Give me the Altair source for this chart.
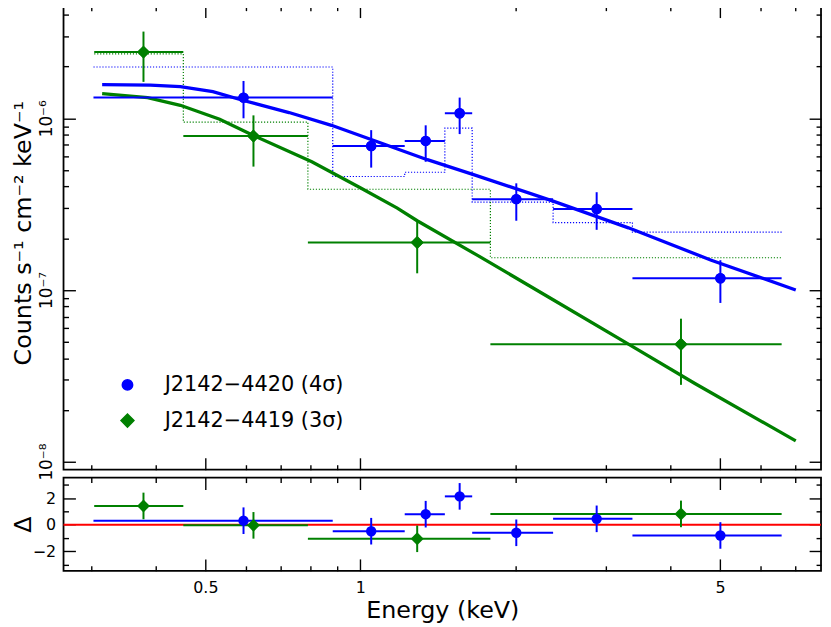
import altair as alt
import pandas as pd

BLUE = "J2142−4420 (4σ)"
GREEN = "J2142−4419 (3σ)"

# J2142-4420: energy bins (keV), unfolded flux, errors, folded model, residuals
blue_lo = [0.303, 0.884, 1.22, 1.46, 1.65, 2.37, 3.38]
blue_hi = [0.884, 1.22, 1.46, 1.65, 2.37, 3.38, 6.59]
blue_e = [0.593, 1.05, 1.34, 1.56, 2.01, 2.88, 5.01]
blue_flux = [1.32e-6, 6.9e-7, 7.38e-7, 1.07e-6, 3.38e-7, 2.96e-7, 1.17e-7]
blue_flux_lo = [1.0e-6, 5.16e-7, 5.58e-7, 8.09e-7, 2.53e-7, 2.24e-7, 8.4e-8]
blue_flux_hi = [1.65e-6, 8.53e-7, 9.1e-7, 1.32e-6, 4.18e-7, 3.71e-7, 1.49e-7]
blue_fold = [1.99e-6, 4.58e-7, 4.85e-7, 8.76e-7, 3.25e-7, 2.47e-7, 2.17e-7]
blue_delta = [0.30, -0.49, 0.79, 2.13, -0.61, 0.44, -0.81]
blue_delta_err = [1, 1, 1, 1, 1, 1, 1]

# J2142-4419
green_lo = [0.304, 0.453, 0.791, 1.79]
green_hi = [0.453, 0.791, 1.79, 6.59]
green_e = [0.379, 0.620, 1.29, 4.20]
green_flux = [2.43e-6, 7.88e-7, 1.89e-7, 4.83e-8]
green_flux_lo = [1.63e-6, 5.23e-7, 1.25e-7, 2.8e-8]
green_flux_hi = [3.2e-6, 1.04e-6, 2.53e-7, 6.8e-8]
green_fold = [2.37e-6, 9.5e-7, 3.86e-7, 1.54e-7]
green_delta = [1.41, -0.05, -1.06, 0.81]
green_delta_err = [1, 1, 1, 1]

# best-fit model curves
blue_model_e = [0.315, 0.391, 0.447, 0.517, 0.593, 0.727, 0.879, 1.083, 1.35, 1.66, 2.37, 3.32, 4.81, 7.02]
blue_model = [1.57e-6, 1.56e-6, 1.53e-6, 1.43e-6, 1.27e-6, 1.08e-6, 9.1e-7, 7.28e-7, 5.74e-7, 4.70e-7, 3.29e-7, 2.30e-7, 1.49e-7, 1.0e-7]
green_model_e = [0.315, 0.386, 0.447, 0.533, 0.617, 0.805, 1.004, 1.18, 1.29, 1.69, 2.37, 3.32, 4.47, 7.02]
green_model = [1.39e-6, 1.32e-6, 1.19e-6, 9.87e-7, 7.99e-7, 5.58e-7, 3.91e-7, 3.0e-7, 2.53e-7, 1.59e-7, 8.77e-8, 4.83e-8, 2.85e-8, 1.32e-8]

x_ticks = [0.3, 0.4, 0.5, 0.6, 0.7, 0.8, 0.9, 1, 2, 3, 4, 5, 6, 7]
x_labels = [0.5, 1, 5]
y_ticks = [1e-8, 2e-8, 3e-8, 4e-8, 5e-8, 6e-8, 7e-8, 8e-8, 9e-8,
           1e-7, 2e-7, 3e-7, 4e-7, 5e-7, 6e-7, 7e-7, 8e-7, 9e-7,
           1e-6, 2e-6, 3e-6, 4e-6]
y_labels = [1e-8, 1e-7, 1e-6]
d_ticks = [-3, -2, -1, 0, 1, 2, 3]
d_labels = [-2, 0, 2]

W, H1, H2 = 764, 468, 94
FONT = "DejaVu Sans"

pts = pd.concat([
    pd.DataFrame({"src": BLUE, "e": blue_e, "lo": blue_lo, "hi": blue_hi, "f": blue_flux,
                  "flo": blue_flux_lo, "fhi": blue_flux_hi, "d": blue_delta,
                  "dlo": [a - b for a, b in zip(blue_delta, blue_delta_err)],
                  "dhi": [a + b for a, b in zip(blue_delta, blue_delta_err)]}),
    pd.DataFrame({"src": GREEN, "e": green_e, "lo": green_lo, "hi": green_hi, "f": green_flux,
                  "flo": green_flux_lo, "fhi": green_flux_hi, "d": green_delta,
                  "dlo": [a - b for a, b in zip(green_delta, green_delta_err)],
                  "dhi": [a + b for a, b in zip(green_delta, green_delta_err)]}),
])

fold = pd.concat([
    pd.DataFrame({"src": BLUE, "e": blue_lo + [blue_hi[-1]], "f": blue_fold + [blue_fold[-1]]}),
    pd.DataFrame({"src": GREEN, "e": green_lo + [green_hi[-1]], "f": green_fold + [green_fold[-1]]}),
])
model = pd.concat([
    pd.DataFrame({"src": BLUE, "e": blue_model_e, "f": blue_model}),
    pd.DataFrame({"src": GREEN, "e": green_model_e, "f": green_model}),
])
zero = pd.DataFrame({"d": [0]})

xs = alt.Scale(type="log", domain=[0.265, 7.86], nice=False)
ys = alt.Scale(type="log", domain=[8.97e-9, 4.53e-6], nice=False)
ds = alt.Scale(domain=[-3.47, 3.54], nice=False)
cs = alt.Scale(domain=[BLUE, GREEN], range=["#0000ff", "#008000"])
ss = alt.Scale(domain=[BLUE, GREEN], range=["circle", "diamond"])
zs = alt.Scale(domain=[BLUE, GREEN], range=[110, 170])

X_MAJOR = "indexof([0.5, 1, 5], datum.value) >= 0"
Y_MAJOR = "abs(log(datum.value) / LN10 - round(log(datum.value) / LN10)) < 0.01"
D_MAJOR = "datum.value % 2 == 0"


def tick_axis(orient, offset, values, major):
    # inward ticks: an axis of the opposite side, pulled across the plot
    return alt.Axis(orient=orient, offset=offset, values=values, labels=False, domain=False,
                    grid=False, title=None, tickColor="black", tickWidth=1.4,
                    tickSize={"condition": {"test": major, "value": 12}, "value": 5})


color = alt.Color("src:N", scale=cs, legend=None)
leg = alt.Legend(orient="none", legendX=54, legendY=372, title=None, labelFontSize=21,
                 labelFont=FONT, symbolSize=140, labelOffset=27, rowPadding=14, padding=0,
                 labelColor="black", labelLimit=0)


def points(y, scale, legend):
    return alt.Chart(pts).mark_point(filled=True, opacity=1).encode(
        x=alt.X("e:Q", scale=xs, axis=None),
        y=alt.Y(y, scale=scale, axis=None),
        color=alt.Color("src:N", scale=cs, legend=legend),
        shape=alt.Shape("src:N", scale=ss, legend=legend),
        size=alt.Size("src:N", scale=zs, legend=legend))


# ---- main panel
m_fold = alt.Chart(fold).mark_line(interpolate="step-after", strokeWidth=1.2,
                                   strokeDash=[1.2, 1.8], clip=True).encode(
    x=alt.X("e:Q", scale=xs, axis=tick_axis("top", -H1, x_ticks, X_MAJOR)),
    y=alt.Y("f:Q", scale=ys, axis=tick_axis("right", -W, y_ticks, Y_MAJOR)),
    color=color, detail="src:N")

m_model = alt.Chart(model).mark_line(strokeWidth=3.3, clip=True).encode(
    x=alt.X("e:Q", scale=xs, axis=tick_axis("bottom", -H1, x_ticks, X_MAJOR)),
    y=alt.Y("f:Q", scale=ys, axis=tick_axis("left", -W, y_ticks, Y_MAJOR)),
    color=color)

m_xerr = alt.Chart(pts).mark_rule(strokeWidth=2).encode(
    x=alt.X("lo:Q", scale=xs, axis=None), x2="hi:Q",
    y=alt.Y("f:Q", scale=ys, axis=alt.Axis(
        orient="left", values=y_labels, ticks=False, domain=False, grid=False,
        labelExpr="'10⁻' + ['⁰','¹','²','³','⁴','⁵','⁶','⁷','⁸','⁹'][round(-log(datum.value) / LN10)]",
        labelAngle=270, labelAlign="center", labelBaseline="bottom", labelPadding=8,
        labelFontSize=17, title="Counts s⁻¹ cm⁻² keV⁻¹", titleFontSize=24,
        titleAngle=270, titleX=-40, titleY=229, titleBaseline="middle", titleAlign="center")),
    color=color)

m_yerr = alt.Chart(pts).mark_rule(strokeWidth=2).encode(
    x=alt.X("e:Q", scale=xs, axis=None),
    y=alt.Y("flo:Q", scale=ys, axis=None), y2="fhi:Q", color=color)

# first layer carries the legend (its settings win the layer merge), last one draws on top
main = alt.layer(points("f:Q", ys, leg), m_fold, m_model, m_xerr, m_yerr,
                 points("f:Q", ys, None)).resolve_axis(
    x="independent", y="independent").properties(width=W, height=H1)

# ---- residual panel
r_zero = alt.Chart(zero).mark_rule(color="#ff0000", strokeWidth=2).encode(
    y=alt.Y("d:Q", scale=ds, axis=tick_axis("right", -W, d_ticks, D_MAJOR)))

r_xerr = alt.Chart(pts).mark_rule(strokeWidth=2).encode(
    x=alt.X("lo:Q", scale=xs, axis=tick_axis("top", -H2, x_ticks, X_MAJOR)), x2="hi:Q",
    y=alt.Y("d:Q", scale=ds, axis=tick_axis("left", -W, d_ticks, D_MAJOR)),
    color=color)

r_yerr = alt.Chart(pts).mark_rule(strokeWidth=2).encode(
    x=alt.X("e:Q", scale=xs, axis=tick_axis("bottom", -H2, x_ticks, X_MAJOR)),
    y=alt.Y("dlo:Q", scale=ds, axis=None), y2="dhi:Q", color=color)

r_pts = alt.Chart(pts).mark_point(filled=True, opacity=1).encode(
    x=alt.X("e:Q", scale=xs, axis=alt.Axis(
        orient="bottom", values=x_labels, ticks=False, domain=False, grid=False,
        format="~g", labelPadding=9, labelFontSize=16, title="Energy (keV)",
        titleFontSize=24, titlePadding=3)),
    y=alt.Y("d:Q", scale=ds, axis=alt.Axis(
        orient="left", values=d_labels, ticks=False, domain=False, grid=False,
        labelExpr="replace(datum.label, '-', '−')", labelPadding=8, labelFontSize=16,
        title="Δ", titleFontSize=24, titleAngle=270, titleX=-40,
        titleBaseline="middle", titleAlign="center")),
    color=color,
    shape=alt.Shape("src:N", scale=ss, legend=None),
    size=alt.Size("src:N", scale=zs, legend=None))

resid = alt.layer(r_zero, r_xerr, r_yerr, r_pts).resolve_axis(
    x="independent", y="independent").properties(width=W, height=H2)

chart = alt.vconcat(main, resid, spacing=8, bounds="flush").resolve_legend(
    color="independent", shape="independent", size="independent"
).properties(
    padding={"left": 3, "top": -7, "right": 0, "bottom": 0}
).configure_view(stroke="black", strokeWidth=1.8).configure_axis(
    labelFont=FONT, titleFont=FONT, labelColor="black", titleColor="black",
    titleFontWeight="normal")

chart.save("out.html", embed_options={"renderer": "svg", "actions": False})
